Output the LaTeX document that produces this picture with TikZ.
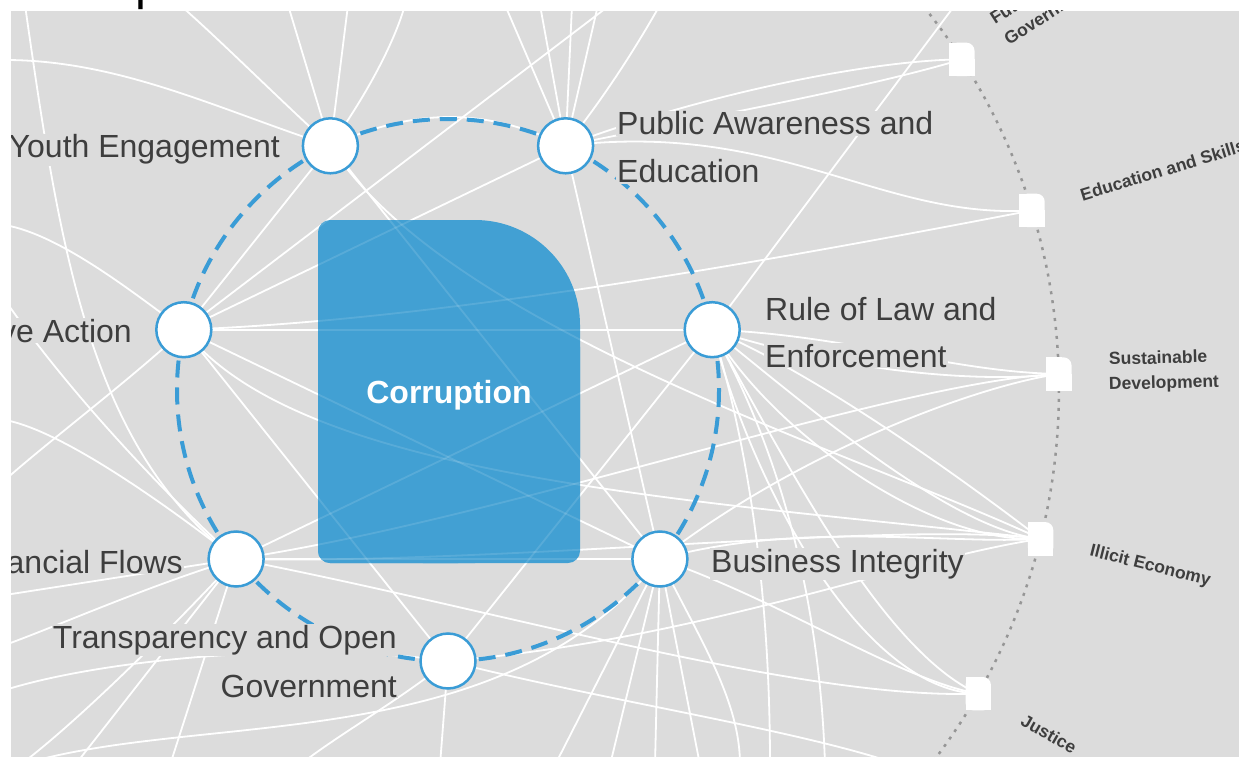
\documentclass[tikz,border=0pt]{standalone}
\usepackage{fontspec}
\setmainfont{Liberation Sans}
\usetikzlibrary{calc}
\definecolor{bg}{RGB}{220,220,220}
\definecolor{cblue}{RGB}{66,160,211}
\definecolor{lblue}{RGB}{58,156,214}
\definecolor{txt}{RGB}{62,62,62}
\definecolor{dotg}{RGB}{150,150,150}
\newcommand{\hlbox}[1]{{\setlength{\fboxsep}{1pt}\colorbox{bg}{#1}}}
\newcommand{\webnet}{%
% Youth
\draw[web] (Y) .. controls (280,100) and (220,40) .. (t1);
\draw[web] (Y) -- (t2);
\draw[web] (Y) -- (t3);
\draw[web] (Y) .. controls (370,90) and (395,40) .. (t4);
\draw[web] (Y) -- (C);
\draw[web] (Y) -- (B);
\draw[web] (Y) .. controls (420,105) and (490,110) .. (P);
\draw[web] (Y) .. controls (220,110) and (120,60) .. (l1);
\draw[web] (Y) .. controls (450,330) and (850,450) .. (IE);
% Public
\draw[web] (P) -- (t5);
\draw[web] (P) -- (t6);
\draw[web] (P) -- (t7);
\draw[web] (P) -- (t8);
\draw[web] (P) .. controls (610,90) and (640,40) .. (t9);
\draw[web] (P) .. controls (700,95) and (870,60) .. (FG);
\draw[web] (P) .. controls (690,120) and (860,90) .. (FG);
\draw[web] (P) .. controls (780,120) and (880,220) .. (ES);
\draw[web] (P) -- (B);
\draw[web] (P) -- (C);
% Collective
\draw[web] (C) .. controls (130,290) and (60,235) .. (l2);
\draw[web] (C) .. controls (130,380) and (50,440) .. (l5);
\draw[web] (C) .. controls (450,320) and (800,255) .. (ES);
\draw[web] (C) .. controls (300,480) and (700,500) .. (IE);
\draw[web] (C) -- (t10);
\draw[web] (C) -- (R);
\draw[web] (C) -- (B);
\draw[web] (C) -- (T);
\draw[web] (t0) .. controls (60,250) and (90,450) .. (F);
\draw[web] (l3) .. controls (60,380) and (150,480) .. (F);
% Rule
\draw[web] (R) .. controls (850,335) and (950,372) .. (SD);
\draw[web] (R) .. controls (820,365) and (960,385) .. (SD);
\draw[web] (R) .. controls (800,400) and (950,530) .. (IE);
\draw[web] (R) .. controls (770,430) and (930,545) .. (IE);
\draw[web] (R) .. controls (830,380) and (990,500) .. (IE);
\draw[web] (R) .. controls (780,450) and (880,650) .. (J);
\draw[web] (R) .. controls (750,480) and (860,690) .. (J);
\draw[web] (T) -- (R);
\draw[web] (R) -- (t11);
\draw[web] (R) .. controls (750,450) and (770,600) .. (b12);
\draw[web] (R) .. controls (780,450) and (820,600) .. (b14);
% Business
\draw[web] (B) -- (b7);
\draw[web] (B) -- (b8);
\draw[web] (B) -- (b9);
\draw[web] (B) -- (b10);
\draw[web] (B) .. controls (700,640) and (740,700) .. (b11);
\draw[web] (B) .. controls (800,520) and (950,545) .. (IE);
\draw[web] (B) .. controls (780,600) and (900,680) .. (J);
\draw[web] (B) -- (F);
\draw[web] (B) .. controls (800,450) and (980,385) .. (SD);
\draw[web] (b1) .. controls (200,710) and (500,760) .. (B);
% Transparency
\draw[web] (T) .. controls (400,700) and (330,740) .. (b4);
\draw[web] (T) -- (b5);
\draw[web] (T) .. controls (300,640) and (100,660) .. (l8);
\draw[web] (T) .. controls (600,700) and (800,730) .. (b13);
\draw[web] (T) .. controls (700,640) and (900,560) .. (IE);
% Illicit financial flows
\draw[web] (F) .. controls (160,500) and (60,430) .. (l4);
\draw[web] (F) -- (l6);
\draw[web] (F) .. controls (150,585) and (60,625) .. (l7);
\draw[web] (F) .. controls (180,620) and (80,720) .. (b1);
\draw[web] (F) -- (b2);
\draw[web] (F) -- (b3);
\draw[web] (F) .. controls (500,520) and (900,380) .. (SD);
\draw[web] (F) .. controls (500,565) and (900,520) .. (IE);
\draw[web] (F) -- (R);
\draw[web] (F) .. controls (500,610) and (800,700) .. (J);
}
\begin{document}
\begin{tikzpicture}[x=1pt,y=-1pt,
  web/.style={white,line width=1.8pt},
  hub/.style={circle,draw=lblue,line width=2.5pt,fill=white,minimum size=55pt,inner sep=0pt},
  sqnode/.style={rectangle,minimum width=25pt,minimum height=33pt,inner sep=0pt},
  ilab/.style={inner sep=0pt,text=txt,font=\fontsize{32}{48}\selectfont},
  olab/.style={inner sep=0pt,text=txt,font=\bfseries\fontsize{17.5}{24}\selectfont}]
\useasboundingbox (0,0) rectangle (1239,762);
% title (cut by the page edge)
\node[anchor=base west,inner sep=0pt,text=black,font=\fontsize{49}{49}\selectfont] (title) at (13,-0.5) {Corruption};
% positions
\coordinate (O) at (448,390);
\coordinate (T) at (448,661);
\coordinate (F) at (236.1,559);
\coordinate (C) at (183.8,329.7);
\coordinate (Y) at (330.4,145.8);
\coordinate (P) at (565.6,145.8);
\coordinate (R) at (712.2,329.7);
\coordinate (B) at (659.9,559);
\coordinate (FG) at (961.8,59.4);
\coordinate (ES) at (1032,210.4);
\coordinate (SD) at (1058.8,374);
\coordinate (IE) at (1040.6,538.8);
\coordinate (J) at (978.2,693.7);
% free ends
\coordinate (t0) at (25,5);
\coordinate (t1) at (180,5);
\coordinate (t2) at (288,5);
\coordinate (t3) at (348,5);
\coordinate (t4) at (405,5);
\coordinate (t5) at (505,5);
\coordinate (t6) at (540,5);
\coordinate (t7) at (572,5);
\coordinate (t8) at (598,5);
\coordinate (t9) at (660,5);
\coordinate (t10) at (610,5);
\coordinate (t11) at (955,5);
\coordinate (l1) at (5,60);
\coordinate (l2) at (5,225);
\coordinate (l3) at (5,300);
\coordinate (l4) at (5,420);
\coordinate (l5) at (5,480);
\coordinate (l6) at (5,595);
\coordinate (l7) at (5,645);
\coordinate (l8) at (5,690);
\coordinate (b1) at (20,765);
\coordinate (b2) at (75,765);
\coordinate (b3) at (170,765);
\coordinate (b4) at (300,765);
\coordinate (b5) at (440,765);
\coordinate (b7) at (555,765);
\coordinate (b8) at (610,765);
\coordinate (b9) at (655,765);
\coordinate (b10) at (700,765);
\coordinate (b11) at (740,765);
\coordinate (b12) at (770,765);
\coordinate (b14) at (825,765);
\coordinate (b13) at (900,765);
\begin{scope}
\clip (11,11) rectangle (1239,757);
\fill[bg] (11,11) rectangle (1239,757);
\webnet
% central box
\fill[cblue, rounded corners=105pt] (318,220) rectangle (580,563);
\fill[cblue, rounded corners=12pt] (318,220) rectangle (470,563);
\fill[cblue, rounded corners=12pt] (318,335) rectangle (580,563);
\begin{scope}[opacity=.12]\webnet\end{scope}
\node[anchor=base,inner sep=0pt,text=white,font=\bfseries\fontsize{32}{32}\selectfont] (core) at (449,403) {Corruption};
% outer dotted arc
\draw[dotg,line width=2.5pt,dash pattern=on 3pt off 6pt] plot[domain=-45:45,samples=120] ({448+611*cos(\x)},{390-611*sin(\x)});
% dashed ring
\draw[lblue,line width=4pt,dash pattern=on 17pt off 10pt] (O) circle[radius=271];
% hubs
\foreach \n in {T,F,C,Y,P,R,B} {\node[hub] (\n n) at (\n) {};}
% squares
\foreach \n in {FG,ES,SD,IE,J} {
  \node[sqnode] (\n s) at (\n) {};
  \fill[white,rounded corners=8pt] (\n s.south west) rectangle (\n s.north east);
  \fill[white] (\n s.south west) rectangle ($(\n s.north east)+(-10,0)$);
  \fill[white] (\n s.south west) rectangle (\n s.east);
}
% inner labels
\node[ilab,anchor=base east] (ylab) at (281,158) {\hlbox{Youth Engagement}};
\node[ilab,anchor=base east] (clab) at (133,342) {\hlbox{Collective Action}};
\node[ilab,anchor=base east] (flab) at (184,573) {\hlbox{Illicit Financial Flows}};
\node[ilab,anchor=base east] (tlab1) at (398,648) {\hlbox{Transparency and Open}};
\node[ilab,anchor=base east] (tlab2) at (398,697) {\hlbox{Government}};
\node[ilab,anchor=base west] (plab1) at (616,135) {\hlbox{Public Awareness and}};
\node[ilab,anchor=base west] (plab2) at (616,183) {\hlbox{Education}};
\node[ilab,anchor=base west] (rlab1) at (764,320) {\hlbox{Rule of Law and}};
\node[ilab,anchor=base west] (rlab2) at (764,367) {\hlbox{Enforcement}};
\node[ilab,anchor=base west] (blab) at (710,572) {\hlbox{Business Integrity}};
% outer labels
\node[olab,anchor=base west,rotate=32.7] (fglab1) at (995,25) {Future of};
\node[olab,anchor=base west,rotate=32.7] (fglab2) at (1009,46) {Government};
\node[olab,anchor=west,rotate=17.1] (eslab) at (1080.7,195.4) {Education and Skills};
\node[olab,anchor=base west,rotate=1.5] (sdlab1) at (1109,365) {Sustainable};
\node[olab,anchor=base west,rotate=1.5] (sdlab2) at (1109,390) {Development};
\node[olab,anchor=west,rotate=-14.1] (ielab) at (1090.1,551.3) {Illicit Economy};
\node[olab,anchor=west,rotate=-29.7] (jlab) at (1022.5,719) {Justice};
\end{scope}
\end{tikzpicture}
\end{document}
